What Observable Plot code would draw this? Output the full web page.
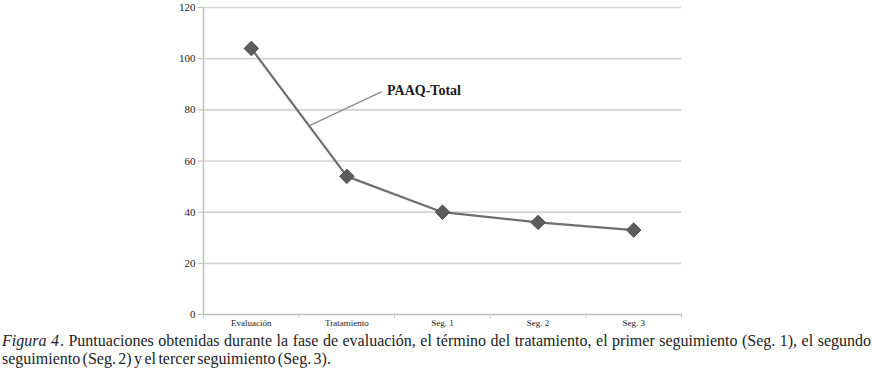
<!DOCTYPE html>
<html>
<head>
<meta charset="utf-8">
<script src="https://cdn.jsdelivr.net/npm/d3@7"></script>
<script src="https://cdn.jsdelivr.net/npm/@observablehq/plot@0.6"></script>
<style>
  html, body { margin: 0; padding: 0; background: #fff; }
  #chart svg { display: block; }
  #caption {
    font-family: "Liberation Serif", "Times New Roman", serif;
    font-size: 16px;
    line-height: 18px;
    word-spacing: -1.6px;
    color: #222;
    width: 869px;
    margin-left: 2px;
    margin-top: 2px;
    text-align: justify;
  }
  #caption i { margin-right: 1px; }
</style>
</head>
<body>
<div id="chart"></div>
<div id="caption"><i>Figura 4</i>. Puntuaciones obtenidas durante la fase de evaluación, el término del tratamiento, el primer seguimiento (Seg. 1), el segundo seguimiento (Seg. 2) y el tercer seguimiento (Seg. 3).</div>
<script>
const categories = ["Evaluación", "Tratamiento", "Seg. 1", "Seg. 2", "Seg. 3"];
const values = [104, 54, 40, 36, 33];
const yTicks = [0, 20, 40, 60, 80, 100, 120];
const seriesLabel = "PAAQ-Total";
// leader line for the label, in data units (x = category index scale)
const leaderX = [1.12, 1.86];
const leaderY = [74, 87];
const labelX = [1.92];
const labelY = [87.5];

const data = categories.map((c, i) => ({pos: i + 0.5, cat: c, value: values[i]}));
const leader = leaderX.map((x, i) => ({x, y: leaderY[i]}));
const label = [{x: labelX[0], y: labelY[0], text: seriesLabel}];

const serif = "'Liberation Serif', 'Times New Roman', serif";
const chart = Plot.plot({
  width: 872,
  height: 330,
  marginLeft: 203,
  marginRight: 191,
  marginTop: 7,
  marginBottom: 16,
  style: {fontFamily: serif, color: "#222", background: "transparent"},
  x: {domain: [0, categories.length], axis: null},
  y: {domain: [0, 120], axis: null},
  marks: [
    Plot.gridY(yTicks.filter(d => d > 0), {stroke: "#d4d4d4", strokeOpacity: 1, strokeWidth: 1.6}),
    Plot.ruleY([0], {stroke: "#bdbdbd", strokeWidth: 1.4}),
    Plot.ruleX([0], {stroke: "#bdbdbd", strokeWidth: 1.4}),
    Plot.axisY({ticks: yTicks, tickSize: 5, tickPadding: 3, stroke: "#bdbdbd", fontSize: 11, tickFormat: d => d, fill: "#222"}),
    Plot.axisX({ticks: d3.range(categories.length + 1), tickSize: 4, tickFormat: () => "", stroke: "#c8c8c8"}),
    Plot.axisX({ticks: data.map(d => d.pos), tickSize: 0, tickPadding: 5, fontSize: 9, tickFormat: d => categories[Math.round(d - 0.5)], fill: "#222"}),
    Plot.line(leader, {x: "x", y: "y", stroke: "#8a8a8a", strokeWidth: 1.3}),
    Plot.text(label, {x: "x", y: "y", text: "text", textAnchor: "start", fontSize: 14, fontWeight: "bold", fill: "#1a1a1a"}),
    Plot.line(data, {x: "pos", y: "value", stroke: "#6e6e6e", strokeWidth: 2.2}),
    Plot.dot(data, {x: "pos", y: "value", symbol: "diamond2", r: 6.5, fill: "#5c5c5c", stroke: "#4a4a4a", strokeWidth: 1})
  ]
});
document.getElementById("chart").append(chart);
</script>
</body>
</html>
